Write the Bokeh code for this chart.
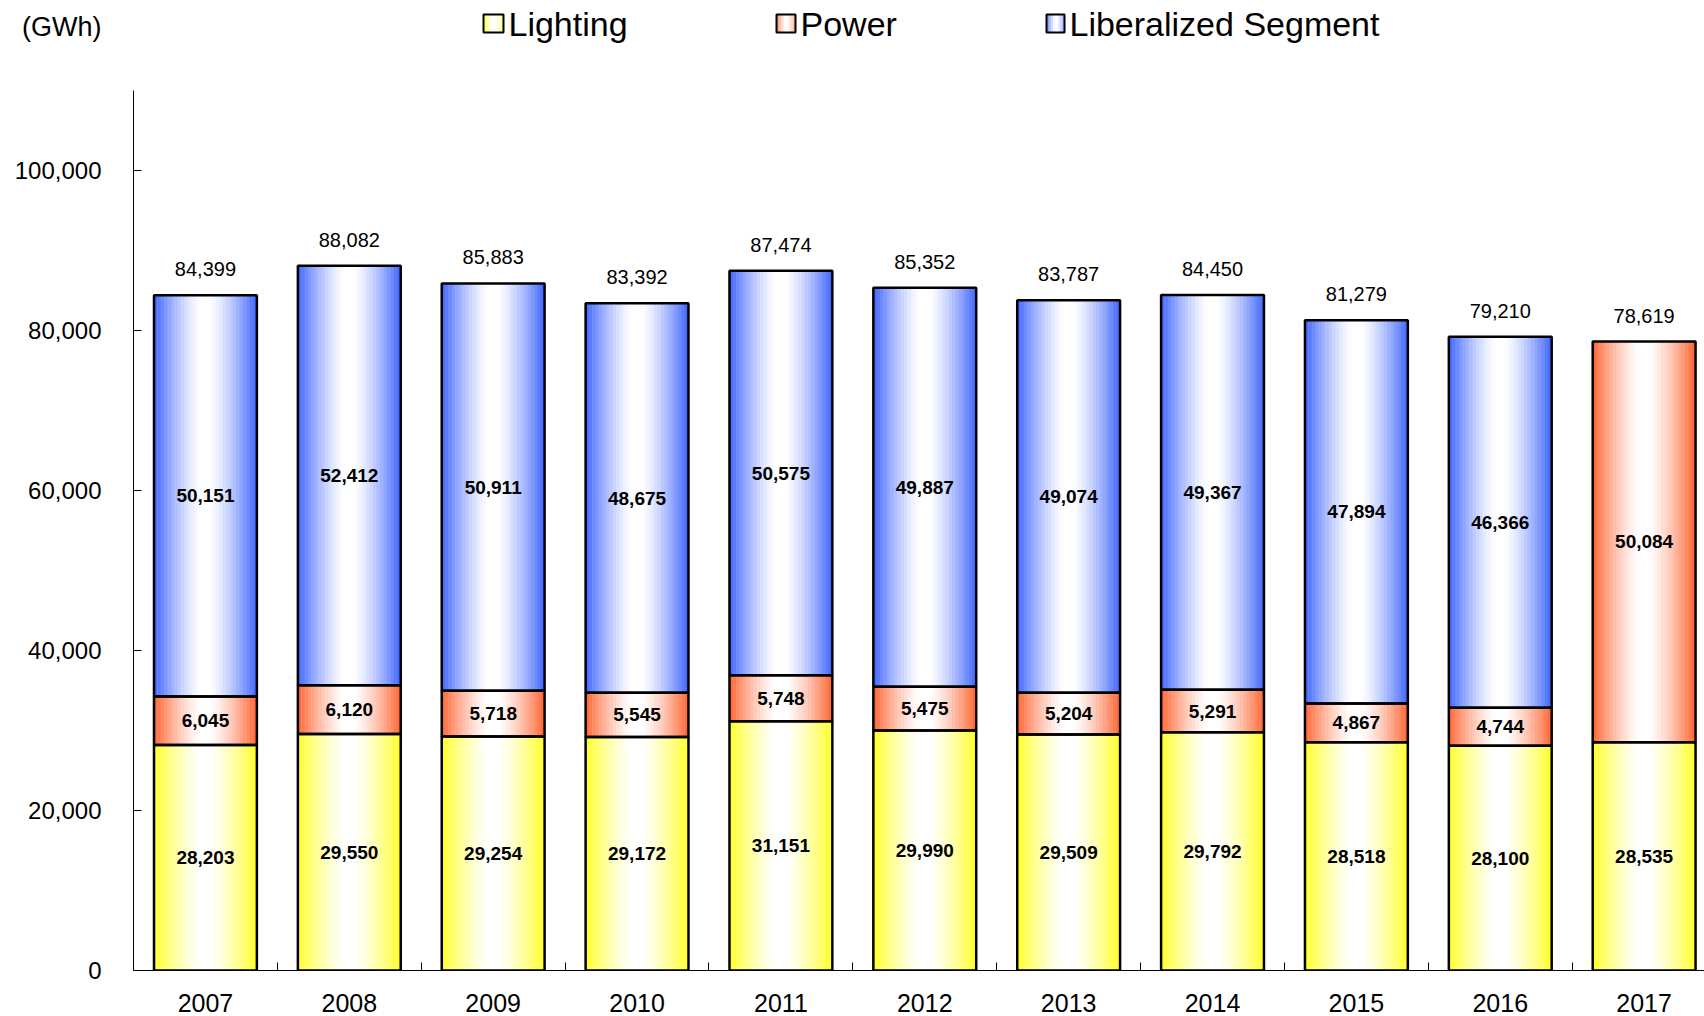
import numpy as np
from bokeh.plotting import figure
from bokeh.layouts import column
from bokeh.models import Range1d, FixedTicker, NumeralTickFormatter, ColumnDataSource
from bokeh.core.properties import value
from bokeh.embed import file_html
from bokeh.resources import INLINE

# ---------------- data ----------------
years = ["2007", "2008", "2009", "2010", "2011", "2012", "2013", "2014", "2015", "2016", "2017"]
lighting = [28203, 29550, 29254, 29172, 31151, 29990, 29509, 29792, 28518, 28100, 28535]
power = [6045, 6120, 5718, 5545, 5748, 5475, 5204, 5291, 4867, 4744, 50084]
liberalized = [50151, 52412, 50911, 48675, 50575, 49887, 49074, 49367, 47894, 46366, 0]
totals = [84399, 88082, 85883, 83392, 87474, 85352, 83787, 84450, 81279, 79210, 78619]
series_names = ["Lighting", "Power", "Liberalized Segment"]
y_ticks = [0, 20000, 40000, 60000, 80000, 100000]
unit_label = "(GWh)"

# ---------------- layout constants ----------------
W, H = 1704, 1016
HEAD_H = 45                   # header strip (unit + legend)
MAIN_H = H - HEAD_H
LEFT = 133                    # frame left (page px)
ZERO_Y = 970                  # page y of value 0
BOTTOM = MAIN_H - (ZERO_Y - HEAD_H)
PX_PER_CAT = 143.87
UNITS_PER_PX = 125.0          # 20,000 GWh per 160 px
BW = 0.715                    # bar width (category units)
N_STRIPS = 30
FONT = "Liberation Sans"

EDGE = {
    "Lighting": (255, 255, 40),
    "Power": (255, 102, 51),
    "Liberalized Segment": (64, 102, 255),
}


def mix(c, f):
    r, g, b = (int(round(255 + (ci - 255) * f)) for ci in c)
    return "#%02x%02x%02x" % (r, g, b)


def grad_f(u):
    t = abs(u - 0.5) * 2.0
    t = max(0.0, (t - 0.08) / 0.92)
    return t ** 1.35


# ---------------- header: unit + legend ----------------
# (frames of the column are aligned, so the header frame spans LEFT..W)
h = figure(width=W, height=HEAD_H, output_backend="svg", toolbar_location=None,
           x_range=Range1d(LEFT, W), y_range=Range1d(HEAD_H, 0),
           min_border_left=LEFT, min_border_right=0,
           min_border_top=0, min_border_bottom=0)
h.xaxis.visible = False
h.grid.visible = False
h.outline_line_color = None
h.background_fill_color = "white"
h.border_fill_color = "white"

hy = h.yaxis[0]
hy.ticker = FixedTicker(ticks=[26])
hy.major_label_overrides = {26: unit_label}
hy.major_tick_line_color = None
hy.major_tick_out = 0
hy.major_tick_in = 0
hy.minor_tick_line_color = None
hy.axis_line_color = None
hy.major_label_standoff = 32
hy.major_label_text_font = FONT
hy.major_label_text_font_size = "27px"
hy.major_label_text_color = "black"

leg_swatch = {"Lighting": (483, 503), "Power": (776, 795), "Liberalized Segment": (1046, 1064)}
for name in series_names:
    x0, x1 = leg_swatch[name]
    ns = 8
    for k in range(ns):
        u = (k + 0.5) / ns
        f = 0.55 * grad_f(u) + (0.25 if u < 0.5 else 0.0) * (1 - 2 * u)
        h.quad(left=x0 + (x1 - x0) * k / ns, right=x0 + (x1 - x0) * (k + 1) / ns + 0.4,
               bottom=32, top=14, fill_color=mix(EDGE[name], min(f, 1.0)), line_color=None)
    h.quad(left=x0, right=x1, bottom=32, top=14, fill_color=None,
           line_color="black", line_width=2)
    h.text(x=[x1 + 5], y=[23.5], text=[name], text_align="left", text_baseline="middle",
           text_font=value(FONT), text_font_size="34px", text_color="black")

# ---------------- main chart ----------------
frame_h = ZERO_Y - HEAD_H
x_end = -0.5 + (W - LEFT) / PX_PER_CAT
y_end = frame_h * UNITS_PER_PX

p = figure(width=W, height=MAIN_H, output_backend="svg", toolbar_location=None,
           x_range=Range1d(-0.5, x_end), y_range=Range1d(0, y_end),
           min_border_left=LEFT, min_border_bottom=BOTTOM,
           min_border_top=0, min_border_right=0)
p.outline_line_color = None
p.xgrid.visible = False
p.ygrid.visible = False
p.background_fill_color = "white"
p.border_fill_color = "white"

idx = np.arange(len(years), dtype=float)
L = np.array(lighting, dtype=float)
P = np.array(power, dtype=float)
B = np.array(liberalized, dtype=float)

segments = [
    ("Lighting", np.zeros_like(L), L, L),
    ("Power", L, L + P, P),
    ("Liberalized Segment", L + P, L + P + B, B),
]

sw = BW / N_STRIPS
for name, bot, top, vals in segments:
    m = vals > 0
    for i in range(N_STRIPS):
        u = (i + 0.5) / N_STRIPS
        off = -BW / 2 + u * BW
        col = mix(EDGE[name], grad_f(u))
        p.vbar(x=idx[m] + off, bottom=bot[m], top=top[m], width=sw * 1.15,
               fill_color=col, line_color=None)

for name, bot, top, vals in segments:
    m = vals > 0
    p.vbar(x=idx[m], bottom=bot[m], top=top[m], width=BW,
           fill_color=None, line_color="black", line_width=2.5)

# segment labels
for name, bot, top, vals in segments:
    m = vals > 0
    src = ColumnDataSource(dict(x=idx[m], y=((bot + top) / 2)[m],
                                t=["{:,}".format(int(v)) for v in vals[m]]))
    p.text(x="x", y="y", text="t", source=src, text_align="center",
           text_baseline="middle", text_font=value(FONT), text_font_style="bold",
           text_font_size="19px", text_color="black")

# totals
tsrc = ColumnDataSource(dict(x=idx, y=totals, t=["{:,}".format(v) for v in totals]))
p.text(x="x", y="y", text="t", source=tsrc, text_align="center", text_baseline="middle",
       y_offset=-26, text_font=value(FONT), text_font_size="20px", text_color="black")

# axes
xa = p.xaxis[0]
xa.ticker = FixedTicker(ticks=list(idx), minor_ticks=[i + 0.5 for i in range(len(years) - 1)])
xa.major_label_overrides = {float(i): y for i, y in enumerate(years)}
xa.major_tick_line_color = None
xa.minor_tick_in = 8
xa.minor_tick_out = 0
xa.minor_tick_line_color = "black"
xa.axis_line_color = "black"
xa.major_label_standoff = 17
xa.major_label_text_font = FONT
xa.major_label_text_font_size = "25px"
xa.major_label_text_color = "black"

ya = p.yaxis[0]
ya.ticker = FixedTicker(ticks=y_ticks)
ya.formatter = NumeralTickFormatter(format="0,0")
ya.bounds = (0, 110000)
ya.major_tick_in = 8
ya.major_tick_out = 0
ya.minor_tick_line_color = None
ya.major_tick_line_color = "black"
ya.axis_line_color = "black"
ya.major_label_standoff = 32
ya.major_label_text_font = FONT
ya.major_label_text_font_size = "24px"
ya.major_label_text_color = "black"

layout = column(h, p, spacing=0)
open("out.html", "w").write(file_html(layout, INLINE))
